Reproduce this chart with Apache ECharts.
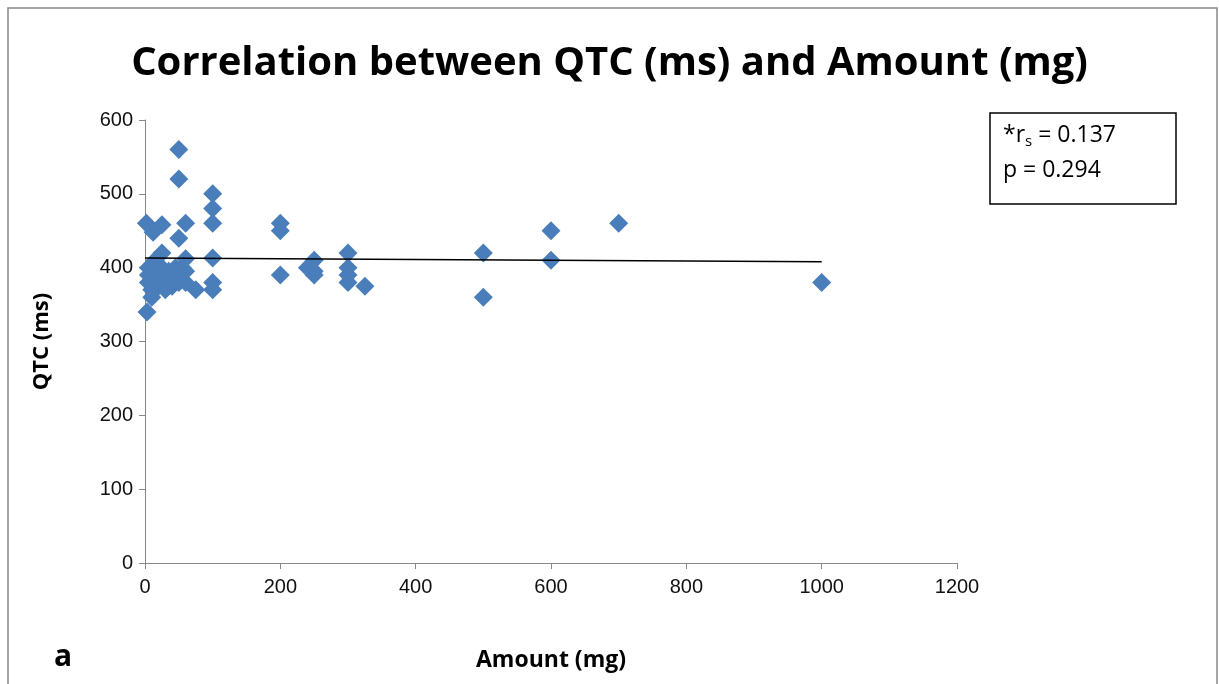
<!DOCTYPE html>
<html><head><meta charset="utf-8">
<script src="https://cdn.jsdelivr.net/npm/echarts@6/dist/echarts.min.js"></script>
<style>html,body{margin:0;padding:0;background:#fff}#c{width:1219px;height:684px}</style>
</head><body><div id="c"></div>
<script>
const amountMg = [2,25,12,60,50,50,50,25,60,100,100,100,100,100,100,75,3,5,5,5,10,10,15,15,20,20,25,25,30,30,35,40,45,50,50,55,60,60,40,200,200,200,240,250,250,250,300,300,300,300,325,500,500,600,600,700,1000];
const qtcMs    = [460,458,448,460,560,520,440,420,412,500,480,460,413,380,370,370,340,400,390,380,370,360,395,410,385,375,400,390,380,370,395,385,400,380,390,400,395,380,375,460,450,390,400,410,395,390,420,400,390,380,375,420,360,450,410,460,380];
const trendX = [0,1000];
const trendY = [413,408];
const xTicks = [0,200,400,600,800,1000,1200];
const yTicks = [0,100,200,300,400,500,600];
const statLines = ['0.137','0.294'];

const chart = echarts.init(document.getElementById('c'));
const pts = amountMg.map((x,i)=>[x,qtcMs[i]]);
const trend = trendX.map((x,i)=>[x,trendY[i]]);
chart.setOption({
  animation:false,
  title:{text:'Correlation between QTC (ms) and Amount (mg)',left:'center',top:39,
    textStyle:{fontFamily:'Open Sans',fontWeight:'bold',fontSize:40,color:'#000'}},
  grid:{left:145,top:120,right:262,bottom:121},
  xAxis:{type:'value',min:xTicks[0],max:xTicks[xTicks.length-1],interval:200,
    axisLine:{lineStyle:{color:'#888'}},axisTick:{show:true,length:6,lineStyle:{color:'#888'}},
    splitLine:{show:false},
    axisLabel:{fontFamily:'Liberation Sans',fontSize:20,color:'#111',margin:14,formatter:v=>String(v)},
    name:'Amount (mg)',nameLocation:'middle',nameGap:86,
    nameTextStyle:{fontFamily:'Open Sans',fontWeight:'bold',fontSize:23,color:'#000'}},
  yAxis:{type:'value',min:yTicks[0],max:yTicks[yTicks.length-1],interval:100,
    axisLine:{show:true,lineStyle:{color:'#888'}},axisTick:{show:true,length:6,lineStyle:{color:'#888'}},
    splitLine:{show:false},
    axisLabel:{fontFamily:'Liberation Sans',fontSize:20,color:'#111',margin:12,formatter:v=>String(v)},
    name:'QTC (ms)',nameLocation:'middle',nameGap:92,nameRotate:90,
    nameTextStyle:{fontFamily:'Open Sans',fontWeight:'bold',fontSize:22,color:'#000'}},
  series:[
    {type:'scatter',data:pts,symbol:'diamond',symbolSize:[19,19],
      itemStyle:{color:'#4a7ebb',opacity:1},z:2},
    {type:'line',data:trend,showSymbol:false,symbol:'none',
      lineStyle:{color:'#000',width:1.5},z:3}
  ],
  graphic:[
    {type:'rect',shape:{x:8,y:8,width:1209,height:700},style:{fill:'none',stroke:'#888',lineWidth:1.5},silent:true},
    {type:'rect',shape:{x:990,y:113,width:186,height:91},style:{fill:'#fff',stroke:'#000',lineWidth:1.5}},
    {type:'text',left:1003,top:122,style:{
      text:'{n|*r}{s|s}{n| = '+statLines[0]+'}\n{n|p = '+statLines[1]+'}',
      rich:{n:{fontFamily:'Open Sans',fontSize:23,color:'#000',lineHeight:35},
            s:{fontFamily:'Open Sans',fontSize:15,color:'#000',padding:[12,0,0,0],lineHeight:35}}}},
    {type:'text',left:54,top:642,style:{text:'a',fontFamily:'Open Sans',fontWeight:'bold',fontSize:30,fill:'#000'}}
  ]
});
</script></body></html>
